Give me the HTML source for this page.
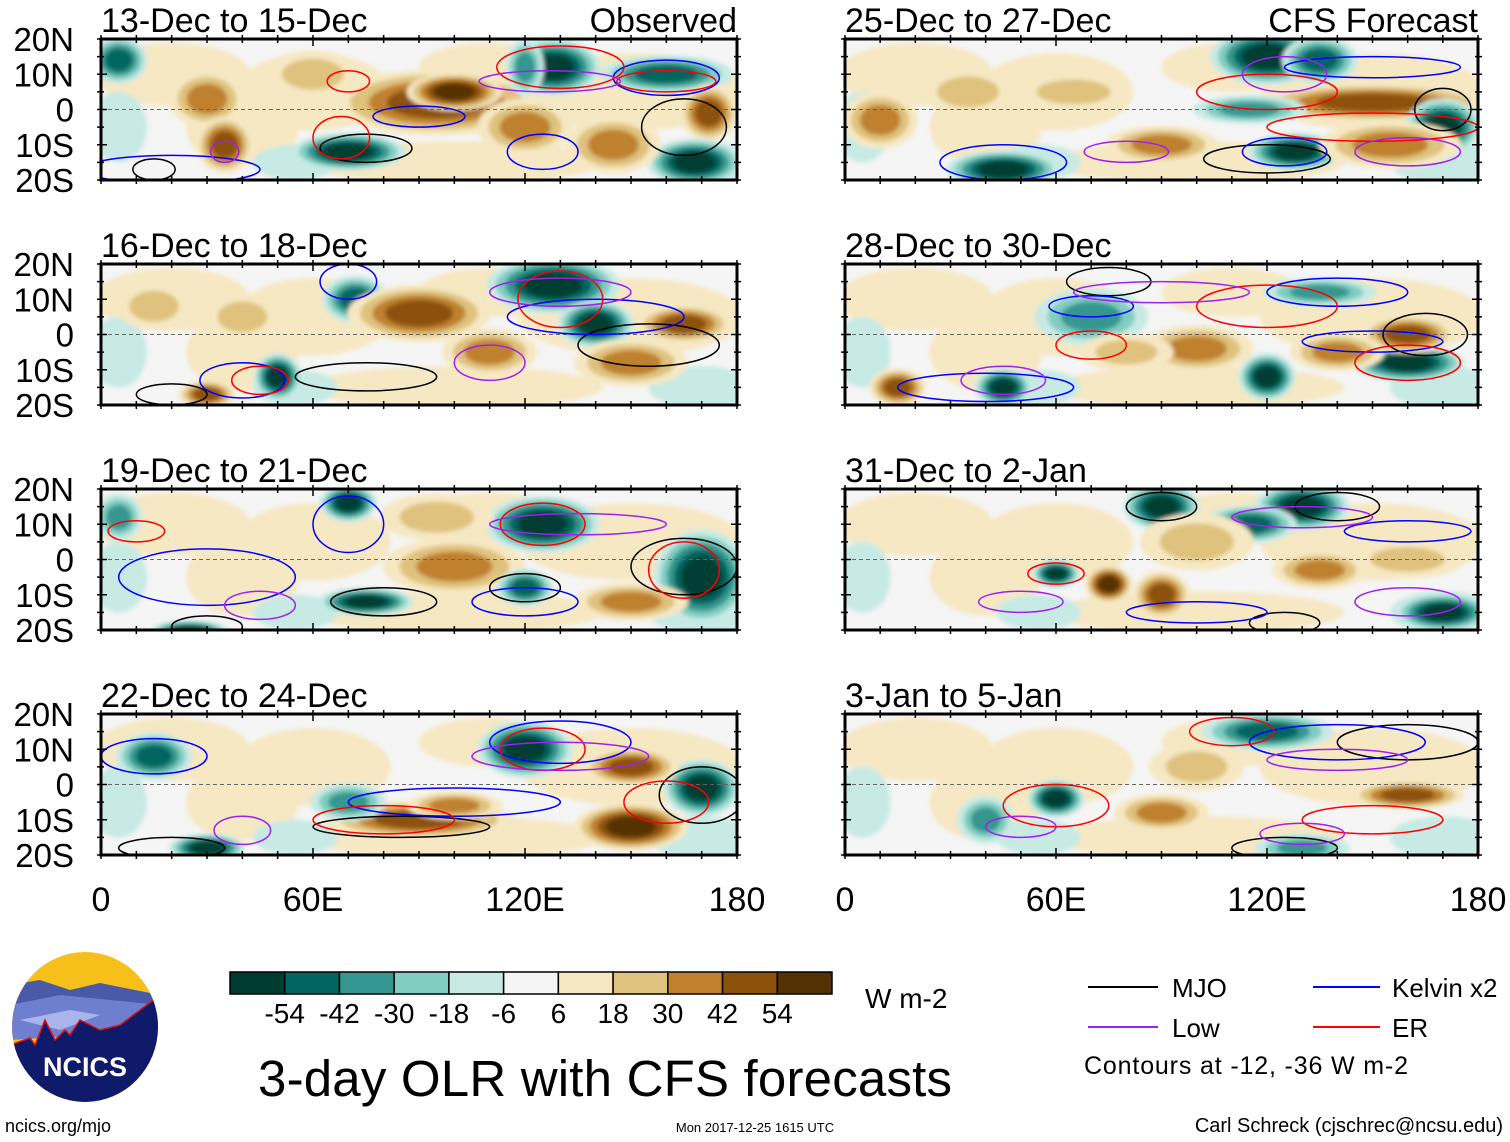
<!DOCTYPE html>
<html><head><meta charset="utf-8"><style>
body{margin:0;background:#fff;}
svg{display:block;font-family:"Liberation Sans",sans-serif;}
</style></head><body>
<svg id="chart" width="1510" height="1142" viewBox="0 0 1510 1142" xmlns="http://www.w3.org/2000/svg">
<defs>
<filter id="blur" x="-20%" y="-50%" width="140%" height="200%"><feGaussianBlur stdDeviation="2"/></filter>
<clipPath id="logoclip"><ellipse cx="85" cy="1027" rx="73" ry="75"/></clipPath>
</defs>
<g id="panels"></g>
<g id="bottom">
  <g clip-path="url(#logoclip)">
    <rect x="10" y="950" width="150" height="160" fill="#f6bf1a"/>
    <path d="M10 985 L40 980 L70 990 L100 983 L160 995 L160 1010 L10 1015Z" fill="#4a5aa8"/>
    <path d="M10 1005 L60 995 L110 1000 L160 1005 L160 1030 L10 1040Z" fill="#6f7fd0"/>
    <path d="M20 1020 L70 1010 L100 1015 L60 1030Z" fill="#a9b5ea"/>
    <path d="M10 1045 L30 1038 L35 1045 L45 1020 L55 1040 L65 1030 L70 1035 L80 1020 L100 1030 L120 1025 L160 995 L160 1110 L10 1110Z" fill="#0f1a6b" stroke="#e01010" stroke-width="1.5"/>
  </g>
  <text x="85" y="1076" text-anchor="middle" font-size="27" font-weight="bold" fill="#fff">NCICS</text>
  <text x="5" y="1132" font-size="18">ncics.org/mjo</text>
  <text x="755" y="1132" text-anchor="middle" font-size="13">Mon 2017-12-25 1615 UTC</text>
  <text x="1503" y="1132" text-anchor="end" font-size="20">Carl Schreck (cjschrec@ncsu.edu)</text>
  <text x="605" y="1096" text-anchor="middle" font-size="51" textLength="694">3-day OLR with CFS forecasts</text>
  <g id="cbar"></g>
  <text x="865" y="1008" font-size="28">W m-2</text>
  <g>
    <line x1="1088" y1="987" x2="1158" y2="987" stroke="#000" stroke-width="2"/>
    <text x="1172" y="997" font-size="26">MJO</text>
    <line x1="1313" y1="987" x2="1380" y2="987" stroke="#0000ff" stroke-width="2"/>
    <text x="1392" y="997" font-size="26">Kelvin x2</text>
    <line x1="1088" y1="1027" x2="1158" y2="1027" stroke="#a020f0" stroke-width="2"/>
    <text x="1172" y="1037" font-size="26">Low</text>
    <line x1="1313" y1="1027" x2="1380" y2="1027" stroke="#ff0000" stroke-width="2"/>
    <text x="1392" y="1037" font-size="26">ER</text>
    <text x="1084" y="1074" font-size="25" textLength="324">Contours at -12, -36 W m-2</text>
  </g>
</g>
</svg>
<script>
const NS="http://www.w3.org/2000/svg";
const levels=[-54,-42,-30,-18,-6,6,18,30,42,54];
const levelColors=["#003c30","#01665e","#35978f","#80cdc1","#c7eae5","#f5f5f5","#f6e8c3","#dfc27d","#bf812d","#8c510a","#543005"];
const panelTitles=["13-Dec to 15-Dec","25-Dec to 27-Dec","16-Dec to 18-Dec","28-Dec to 30-Dec","19-Dec to 21-Dec","31-Dec to 2-Jan","22-Dec to 24-Dec","3-Jan to 5-Jan"];
const latTicks=["20N","10N","0","10S","20S"];
const lonTicks=["0","60E","120E","180"];
// blobs: [lon, lat, lonRadius, latRadius, OLR anomaly]
const blobs0=[[30,3,8,6,30],[35,-10,6,6,42],[5,14,6,5,-42],[70,-12,12,4,-54],[95,2,22,7,42],[100,5,10,4,54],[128,12,10,6,-54],[160,10,14,4,-42],[172,-1,6,6,42],[168,-15,10,5,-54],[145,-10,10,6,30],[120,-5,10,6,30],[60,10,10,5,18],[120,12,4,6,-30]];
const blobs1=[[120,15,12,6,-54],[135,14,8,5,-42],[150,2,25,4,42],[170,-5,8,6,-54],[128,-12,10,4,-54],[45,-17,12,4,-54],[90,-10,12,4,30],[10,-3,8,6,30],[65,5,12,4,18],[115,0,12,3,-30],[155,-10,15,5,30],[35,5,10,5,18]];
const blobs2=[[128,14,14,6,-54],[140,3,8,5,-54],[72,10,7,5,-42],[90,6,15,6,42],[50,-12,5,5,-54],[30,-17,6,3,42],[110,-5,10,5,30],[165,3,10,4,42],[150,-8,12,5,30],[15,8,8,5,18],[40,5,8,5,18]];
const blobs3=[[70,5,12,6,-30],[45,-15,6,4,-54],[15,-15,6,4,42],[120,-12,6,5,-54],[160,-8,12,4,-54],[160,0,10,4,42],[100,-4,12,5,30],[135,12,12,3,-30],[80,-5,10,4,18],[140,-5,10,4,30]];
const blobs4=[[70,16,6,4,-54],[125,10,12,6,-54],[170,-5,10,10,-54],[75,-12,10,3,-54],[25,-20,8,2,-54],[100,-2,15,6,30],[150,-12,12,4,30],[95,12,12,5,18],[5,12,5,5,-30],[120,-8,6,4,-42]];
const blobs5=[[90,15,8,5,-54],[130,15,10,5,-54],[115,10,10,4,-42],[60,-4,5,3,-54],[75,-7,5,4,54],[90,-10,6,5,42],[170,-15,10,4,-54],[135,-3,10,4,30],[100,5,12,6,18],[160,0,12,4,18]];
const blobs6=[[120,10,10,6,-54],[90,-10,20,4,42],[150,-12,12,5,54],[170,-1,8,6,-54],[70,-5,8,4,-30],[15,8,8,5,-42],[150,5,10,4,42],[30,-18,8,3,-54],[100,-6,10,3,30]];
const blobs7=[[120,15,14,4,-42],[60,-4,6,4,-54],[90,-8,10,4,30],[160,-3,12,3,42],[130,-18,10,3,-30],[40,-10,6,5,-30],[100,5,10,5,18]];
const blobSets=[blobs0,blobs1,blobs2,blobs3,blobs4,blobs5,blobs6,blobs7];
// contours: [lon, lat, lonRadius, latRadius, wave type]
const contours0=[[75,-11,13,4,"mjo"],[165,-5,12,8,"mjo"],[15,-17,6,3,"mjo"],[90,-2,13,3,"kelvin"],[125,-12,10,5,"kelvin"],[20,-17,25,4,"kelvin"],[160,9,15,5,"kelvin"],[130,12,18,6,"er"],[160,8,14,3,"er"],[68,-8,8,6,"er"],[70,8,6,3,"er"],[127,8,20,3,"low"],[35,-12,4,3,"low"]];
const contours1=[[120,-14,18,4,"mjo"],[170,0,8,6,"mjo"],[125,-12,12,4,"kelvin"],[45,-15,18,5,"kelvin"],[150,12,25,3,"kelvin"],[120,5,20,5,"er"],[150,-5,30,4,"er"],[125,10,12,5,"low"],[160,-12,15,4,"low"],[80,-12,12,3,"low"]];
const contours2=[[75,-12,20,4,"mjo"],[155,-3,20,6,"mjo"],[20,-17,10,3,"mjo"],[140,5,25,5,"kelvin"],[40,-13,12,5,"kelvin"],[70,15,8,5,"kelvin"],[130,10,12,8,"er"],[45,-13,8,4,"er"],[130,12,20,4,"low"],[110,-8,10,5,"low"]];
const contours3=[[75,15,12,4,"mjo"],[165,0,12,6,"mjo"],[70,8,12,3,"kelvin"],[140,12,20,4,"kelvin"],[150,-2,20,3,"kelvin"],[40,-15,25,4,"kelvin"],[120,8,20,6,"er"],[70,-3,10,4,"er"],[160,-8,15,5,"er"],[90,12,25,3,"low"],[45,-13,12,4,"low"]];
const contours4=[[30,-19,10,3,"mjo"],[80,-12,15,4,"mjo"],[120,-8,10,4,"mjo"],[165,-2,15,8,"mjo"],[70,10,10,8,"kelvin"],[30,-5,25,8,"kelvin"],[120,-12,15,4,"kelvin"],[125,10,12,6,"er"],[165,-3,10,8,"er"],[10,8,8,3,"er"],[135,10,25,3,"low"],[45,-13,10,4,"low"]];
const contours5=[[90,15,10,4,"mjo"],[140,15,12,4,"mjo"],[125,-18,10,3,"mjo"],[160,8,18,3,"kelvin"],[100,-15,20,3,"kelvin"],[60,-4,8,3,"er"],[130,12,20,3,"low"],[50,-12,12,3,"low"],[160,-12,15,4,"low"]];
const contours6=[[85,-12,25,3,"mjo"],[170,-3,12,8,"mjo"],[20,-18,15,3,"mjo"],[130,12,20,6,"kelvin"],[100,-5,30,4,"kelvin"],[15,8,15,5,"kelvin"],[125,10,12,6,"er"],[80,-10,20,4,"er"],[160,-5,12,6,"er"],[130,8,25,4,"low"],[40,-13,8,4,"low"]];
const contours7=[[160,12,20,5,"mjo"],[125,-18,15,3,"mjo"],[140,12,25,5,"kelvin"],[60,-6,15,6,"er"],[110,15,12,4,"er"],[150,-10,20,4,"er"],[140,7,20,3,"low"],[50,-12,10,3,"low"],[130,-14,12,3,"low"]];
const contourSets=[contours0,contours1,contours2,contours3,contours4,contours5,contours6,contours7];
const waveColors={mjo:"#000000",kelvin:"#0000ff",low:"#a020f0",er:"#ff0000"};
const baseTan=[[20,10,22,9,10],[60,5,22,11,10],[150,5,32,11,10],[100,-15,42,6,10],[40,-5,16,11,10],[110,12,20,7,10],[170,-15,15,6,-10],[55,-15,12,5,-10],[5,-5,8,10,-10]];
const SCALE=1.35;

function colorFor(v){let i=0;while(i<levels.length&&v>levels[i])i++;return levelColors[i];}
function mk(tag,attrs,parent){const e=document.createElementNS(NS,tag);for(const k in attrs)e.setAttribute(k,attrs[k]);parent.appendChild(e);return e;}

const root=document.getElementById("panels");
const colX=[101,845], colW=[636,633], rowY=[39,264,489,714], PH=141;
for(let p=0;p<8;p++){
  const c=p%2, r=Math.floor(p/2);
  const x0=colX[c], w=colW[c], y0=rowY[r];
  const xs=lon=>x0+lon/180*w, ys=lat=>y0+(20-lat)/40*PH;
  const g=mk("g",{},root);
  
  
  const cid="clip"+p;
  const cp=mk("clipPath",{id:cid},g);
  mk("rect",{x:x0,y:y0,width:w,height:PH},cp);
  mk("rect",{x:x0,y:y0,width:w,height:PH,fill:"#f5f5f5"},g);
  const field=mk("g",{"clip-path":"url(#"+cid+")"},g);
  const fb=mk("g",{filter:"url(#blur)"},field);
  baseTan.forEach(b=>{
    const e=mk("ellipse",{cx:xs(b[0]),cy:ys(b[1]),rx:b[2]/180*w,ry:b[3]/40*PH,fill:colorFor(b[4])},fb);
    
    
  });
  blobSets[p].forEach(b=>{
    const v=b[4], sign=Math.sign(v);
    const steps=[];for(let t=sign*6;Math.abs(t)<=Math.abs(v)+0.1;t+=sign*12)steps.push(t);
    steps.forEach((t,k)=>{
      const f=SCALE*(1-0.7*k/steps.length);
      const e=mk("ellipse",{cx:xs(b[0]),cy:ys(b[1]),rx:b[2]/180*w*f,ry:b[3]/40*PH*f,fill:colorFor(t+sign*1)},fb);
      
      
    });
  });
  mk("line",{x1:x0,y1:ys(0),x2:x0+w,y2:ys(0),stroke:"#666","stroke-dasharray":"4,3","stroke-width":1},field);
  contourSets[p].forEach(cn=>{
    const e=mk("ellipse",{cx:xs(cn[0]),cy:ys(cn[1]),rx:cn[2]/180*w,ry:cn[3]/40*PH,fill:"none",stroke:waveColors[cn[4]],"stroke-width":1.5},field);
    
    
  });
  mk("rect",{x:x0,y:y0,width:w,height:PH,fill:"none",stroke:"#000","stroke-width":3},g);
  for(let lon=0;lon<=180;lon+=10){const L=lon%60==0?7:4;
    mk("line",{x1:xs(lon),y1:y0,x2:xs(lon),y2:y0+L,stroke:"#000","stroke-width":1.5},g);
    mk("line",{x1:xs(lon),y1:y0+PH,x2:xs(lon),y2:y0+PH-L,stroke:"#000","stroke-width":1.5},g);
    mk("line",{x1:xs(lon),y1:y0,x2:xs(lon),y2:y0-4,stroke:"#000","stroke-width":1.5},g);
    mk("line",{x1:xs(lon),y1:y0+PH,x2:xs(lon),y2:y0+PH+4,stroke:"#000","stroke-width":1.5},g);}
  for(let lat=-20;lat<=20;lat+=5){const L=lat%10==0?6:3;
    mk("line",{x1:x0-4,y1:ys(lat),x2:x0+L,y2:ys(lat),stroke:"#000","stroke-width":1.5},g);
    mk("line",{x1:x0+w+4,y1:ys(lat),x2:x0+w-L,y2:ys(lat),stroke:"#000","stroke-width":1.5},g);}
  const t=mk("text",{x:x0,y:y0-7,"font-size":34},g);t.textContent=panelTitles[p];
  
  
  if(r==0){const s=mk("text",{x:x0+w,y:y0-7,"font-size":34,"text-anchor":"end"},g);s.textContent=c==0?"Observed":"CFS Forecast";
    
    }
  if(c==0){latTicks.forEach((lab,k)=>{const e=mk("text",{x:74,y:y0+k*PH/4+12,"font-size":33,"text-anchor":"end"},g);e.textContent=lab;
    
    });}
  if(r==3){lonTicks.forEach((lab,k)=>{const e=mk("text",{x:xs(k*60),y:911,"font-size":34,"text-anchor":"middle"},g);e.textContent=lab;
    
    });}
}
// colorbar
const cb=document.getElementById("cbar");
const cbX=230,cbW=602,cbY=972,cbH=22,bw=cbW/levelColors.length;
levelColors.forEach((col,i)=>{
  const r=mk("rect",{x:cbX+i*bw,y:cbY,width:bw,height:cbH,fill:col,stroke:"#000","stroke-width":1.5},cb);
  
  
});
levels.forEach((lv,i)=>{
  const t=mk("text",{x:cbX+(i+1)*bw,y:1023,"font-size":28,"text-anchor":"middle"},cb);t.textContent=lv;
  
  
});
</script>
</body></html>
